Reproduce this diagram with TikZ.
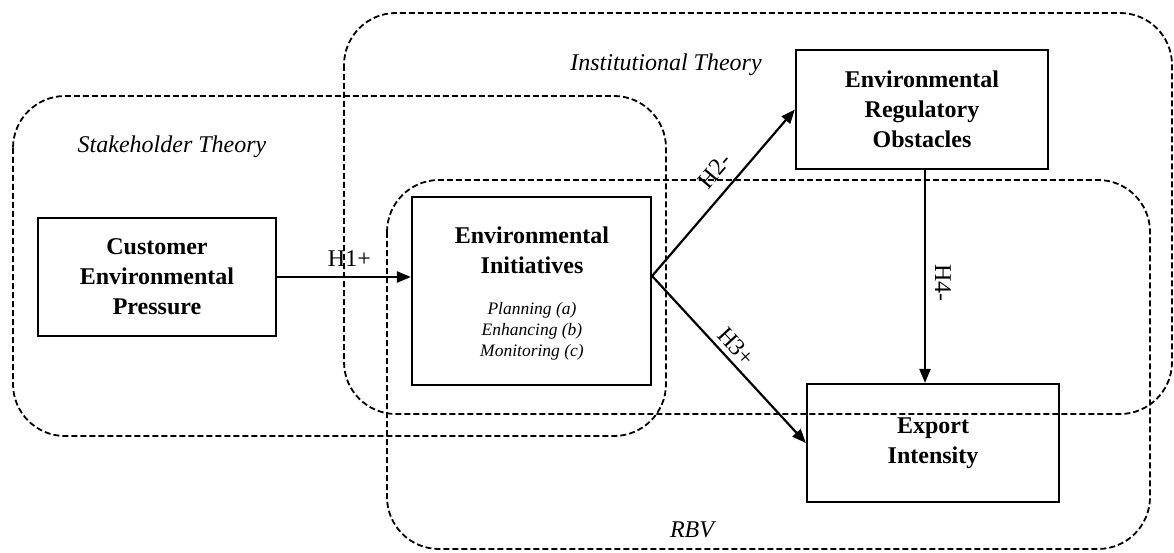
\documentclass[tikz,border=0pt]{standalone}
\usepackage{fontspec}
\setmainfont{Liberation Serif}
\usetikzlibrary{arrows.meta}

\begin{document}
\begin{tikzpicture}[x=1pt, y=-1pt,
  region/.style={dash pattern=on 6pt off 3pt, line width=1.8, rounded corners=52},
  construct/.style={draw, line width=2.2, align=center, inner sep=0,
    font=\fontsize{24}{30}\selectfont\bfseries},
  theory/.style={font=\fontsize{24}{28}\selectfont\itshape},
  hyp/.style={font=\fontsize{24}{28}\selectfont, inner sep=2pt},
  arr/.style={-{Triangle[length=14pt, width=11pt]}, line width=2.2}]

 \useasboundingbox (0,0) rectangle (1174,553);

 %%%%%%%%%% Theory regions %%%%%%%%%%
 \draw [region] (13,96) rectangle (666,436) ;
 \draw [region] (344,13) rectangle (1172,414) ;
 \draw [region] (387,180) rectangle (1150,549) ;

 \node [theory] (stake) at (172,147) {Stakeholder Theory};
 \node [theory] (inst) at (666,65) {Institutional Theory};
 \node [theory] (rbv) at (692,530) {RBV};

 %%%%%%%%%% Constructs %%%%%%%%%%
 \node [construct, minimum width=238, minimum height=118] (cust) at (157,277)
   {Customer\\Environmental\\Pressure};
 \node [construct, minimum width=239, minimum height=188] (ei) at (531.5,291) {};
 \node [construct, draw=none] (eititle) at (532,250) {Environmental\\Initiatives};
 \node [align=center, inner sep=0, font=\fontsize{17.5}{21}\selectfont\itshape] (eiitems) at (532,331)
   {Planning (a)\\Enhancing (b)\\Monitoring (c)};
 \node [construct, minimum width=252, minimum height=119] (reg) at (922,109.5)
   {Environmental\\Regulatory\\Obstacles};
 \node [construct, minimum width=252, minimum height=118] (exp) at (933,443)
   {Export\\Intensity};

 %%%%%%%%%% Hypotheses %%%%%%%%%%
 \draw [arr] (cust.east) -- (cust.east -| ei.west)
   node [hyp, pos=0.54, above=7pt] {H1+} ;
 \draw [arr] ([yshift=15pt]ei.east) -- (reg.west)
   node [hyp, pos=0.55, sloped, above=10pt] {H2-} ;
 \draw [arr] ([yshift=15pt]ei.east) -- (exp.west)
   node [hyp, pos=0.48, sloped, above=3pt] {H3+} ;
 \draw [arr] ([xshift=3pt]reg.south) -- ([xshift=3pt]reg.south |- exp.north)
   node [hyp, pos=0.53, sloped, above=7pt] {H4-} ;

\end{tikzpicture}
\end{document}
